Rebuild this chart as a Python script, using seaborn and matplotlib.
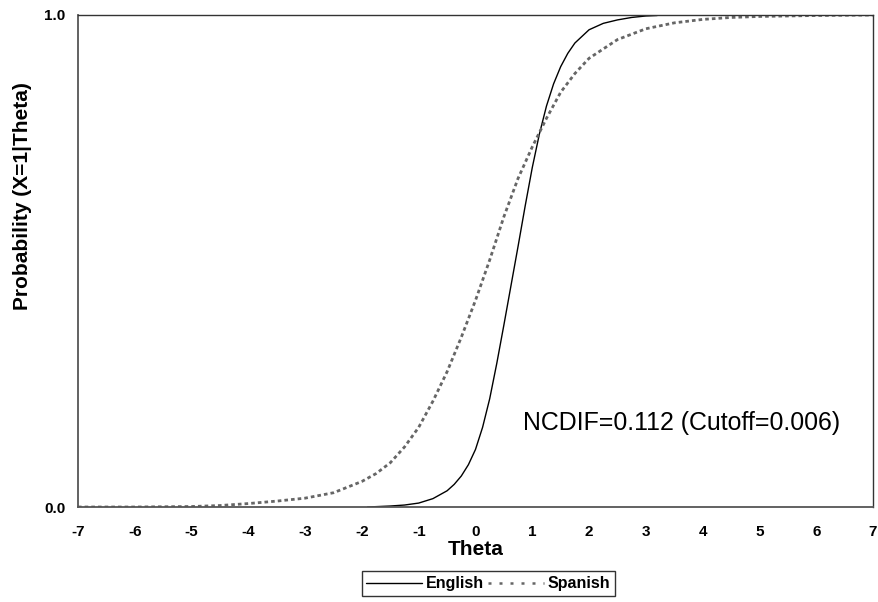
import matplotlib
matplotlib.use("Agg")
import matplotlib.pyplot as plt
import seaborn as sns
import pandas as pd

# Item characteristic curves for the two language groups
english_theta = [-1.9, -1.5, -1.25, -1.0, -0.75, -0.5, -0.375, -0.25, -0.125, 0.0, 0.125,
                 0.25, 0.375, 0.5, 0.625, 0.75, 0.875, 1.0, 1.125, 1.25, 1.375, 1.5,
                 1.625, 1.75, 2.0, 2.25, 2.5, 2.75, 3.0, 3.2]
english_prob = [0.000, 0.002, 0.004, 0.008, 0.017, 0.033, 0.046, 0.063, 0.086, 0.117, 0.162,
                0.220, 0.292, 0.370, 0.450, 0.530, 0.612, 0.690, 0.758, 0.815, 0.860, 0.895,
                0.922, 0.943, 0.970, 0.983, 0.990, 0.995, 0.998, 0.999]

spanish_theta = [-7.0, -6.0, -5.0, -4.5, -4.0, -3.5, -3.0, -2.5, -2.0, -1.75, -1.5,
                 -1.25, -1.0, -0.75, -0.5, -0.25, 0.0, 0.25, 0.5, 0.75, 1.0, 1.25,
                 1.5, 1.75, 2.0, 2.5, 3.0, 3.5, 4.0, 4.5, 5.0, 6.0, 7.0]
spanish_prob = [0.000, 0.000, 0.001, 0.003, 0.007, 0.012, 0.018, 0.029, 0.052, 0.068, 0.090,
                0.122, 0.162, 0.215, 0.275, 0.345, 0.420, 0.502, 0.590, 0.668, 0.732, 0.790,
                0.843, 0.881, 0.912, 0.950, 0.972, 0.984, 0.991, 0.995, 0.997, 0.999, 1.000]

x_ticks = [-7, -6, -5, -4, -3, -2, -1, 0, 1, 2, 3, 4, 5, 6, 7]
y_ticks = [0.0, 1.0]
annotation = "NCDIF=0.112 (Cutoff=0.006)"

df = pd.concat([
    pd.DataFrame({"Theta": english_theta, "Prob": english_prob, "Group": "English"}),
    pd.DataFrame({"Theta": spanish_theta, "Prob": spanish_prob, "Group": "Spanish"}),
], ignore_index=True)

sns.set_style("white")
plt.rcParams["font.family"] = ["Liberation Sans", "DejaVu Sans"]
plt.rcParams.update({"text.color": "black", "axes.labelcolor": "black",
                     "xtick.color": "black", "ytick.color": "black"})

fig = plt.figure(figsize=(8.79, 6.02), dpi=100)
ax = fig.add_axes([0.0887, 0.1578, 0.9045, 0.8173])

sns.lineplot(data=df[df.Group == "English"], x="Theta", y="Prob", ax=ax,
             color="black", linewidth=1.0, label="English", estimator=None, sort=True)
sns.lineplot(data=df[df.Group == "Spanish"], x="Theta", y="Prob", ax=ax,
             color="#666666", linewidth=2.0, label="Spanish", estimator=None, sort=True)
ax.lines[1].set_dashes((1.3, 1.1))

ax.set_xlim(-7, 7)
ax.set_ylim(0, 1)
ax.set_xticks(x_ticks)
ax.set_xticklabels([str(t) for t in x_ticks])
ax.set_yticks(y_ticks)
ax.set_yticklabels([f"{t:.1f}" for t in y_ticks])
ax.tick_params(axis="x", length=0, pad=13, labelsize=11, labelcolor="black")
ax.tick_params(axis="y", length=0, pad=9, labelsize=11, labelcolor="black")
for lab in ax.get_xticklabels() + ax.get_yticklabels():
    lab.set_fontweight("bold")

for side in ["left", "bottom"]:
    ax.spines[side].set_color("#555555")
    ax.spines[side].set_linewidth(1.3)
for side in ["top", "right"]:
    ax.spines[side].set_color("#333333")
    ax.spines[side].set_linewidth(1.0)

ax.set_xlabel("Theta", fontsize=15, fontweight="bold", labelpad=0.5, color="black")
ax.set_ylabel("Probability (X=1|Theta)", fontsize=15, fontweight="bold", color="black")
ax.yaxis.set_label_coords(-0.058, 0.632)

ax.text(0.56, 0.17, annotation, transform=ax.transAxes, fontsize=17.9,
        ha="left", va="center", color="black")

leg = ax.legend(loc="upper center", bbox_to_anchor=(0.516, -0.131), ncol=2,
                frameon=True, fancybox=False, handlelength=3.5, handletextpad=0.2,
                columnspacing=0.3, borderpad=0.3, borderaxespad=0,
                prop={"weight": "bold", "size": 11.5})
leg.get_frame().set_edgecolor("black")
leg.get_frame().set_linewidth(1.0)
for txt in leg.get_texts():
    txt.set_color("black")
leg.get_lines()[1].set_linewidth(1.8)
leg.get_lines()[1].set_dashes((1.2, 3.2))

fig.savefig("out.png", dpi=100)
